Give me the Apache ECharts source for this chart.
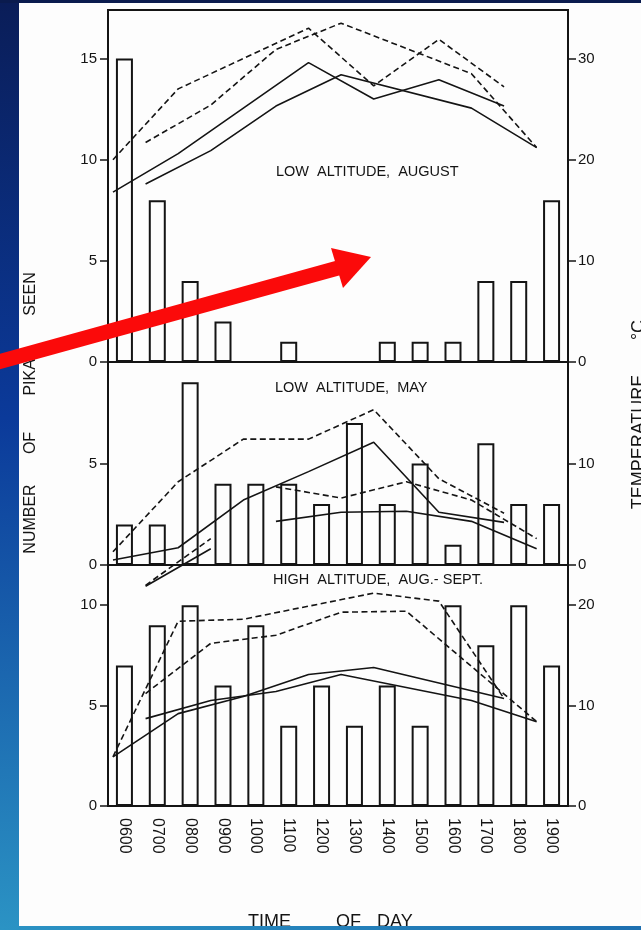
<!DOCTYPE html>
<html>
<head>
<meta charset="utf-8">
<style>
html,body{margin:0;padding:0;background:#fdfdfd;}
#chart{width:641px;height:930px;}
</style>
<script src="https://cdn.jsdelivr.net/npm/echarts@6/dist/echarts.min.js"></script>
</head>
<body>
<div id="chart"></div>
<script>
// ---- categories ----
const hours = ['0600','0700','0800','0900','1000','1100','1200','1300','1400','1500','1600','1700','1800','1900'];

// ---- bar values: number of pikas seen ----
const augBars  = [15, 8, 4, 2, 0, 1, 0, 0, 1, 1, 1, 4, 4, 8];
const mayBars  = [2, 2, 9, 4, 4, 4, 3, 7, 3, 5, 1, 6, 3, 3];
const highBars = [7, 9, 10, 6, 9, 4, 6, 4, 6, 4, 10, 8, 10, 7];

// ---- temperature lines (°C), hours of day ----
// Low altitude, August
const augEvenHours   = [6, 8, 12, 14, 16, 18];
const augDashEven    = [20.0, 27.0, 33.0, 27.3, 31.9, 27.2];
const augSolidEven   = [16.8, 20.6, 29.6, 26.0, 27.9, 25.3];
const augOddHours    = [7, 9, 11, 13, 17, 19];
const augDashOdd     = [21.7, 25.4, 30.9, 33.5, 28.5, 21.2];
const augSolidOdd    = [17.6, 20.9, 25.3, 28.4, 25.1, 21.2];
// Low altitude, May
const mayEvenHours   = [6, 8, 10, 12, 14, 16, 18];
const mayDashEven    = [1.3, 8.2, 12.4, 12.4, 15.3, 8.5, 5.1];
const maySolidEven   = [0.5, 1.7, 6.4, 9.2, 12.1, 5.2, 4.2];
const mayOddHours    = [7, 9, 10, 11, 13, 15, 17, 19];
const mayDashOdd     = [-2.0, 2.6, null, 7.7, 6.6, 8.2, 6.4, 2.6];
const maySolidOdd    = [-2.1, 1.6, null, 4.3, 5.2, 5.3, 4.3, 1.6];
// High altitude, Aug.-Sept.
const highDashEvenHours  = [6, 8, 10, 14, 16, 18];
const highDashEven       = [4.9, 18.4, 18.6, 21.2, 20.4, 10.7];
const highSolidEvenHours = [6, 8, 10, 12, 14, 18];
const highSolidEven      = [4.9, 9.2, 10.9, 13.1, 13.8, 10.7];
const highDashOddHours   = [7, 9, 11, 13, 15, 19];
const highDashOdd        = [11.2, 16.2, 17.0, 19.3, 19.4, 8.4];
const highSolidOddHours  = [7, 9, 11, 13, 17, 19];
const highSolidOdd       = [8.7, 10.5, 11.4, 13.1, 10.5, 8.4];

// ---- axis ticks ----
const countMax = [17.4, 10, 12];
const countTicks = [[0, 5, 10, 15], [0, 5], [0, 5, 10]];
const tempTicks  = [[0, 10, 20, 30], [0, 10], [0, 10, 20]];

const panelTitles = ['LOW  ALTITUDE,  AUGUST', 'LOW  ALTITUDE,  MAY', 'HIGH  ALTITUDE,  AUG.- SEPT.'];

const FONT = '"Liberation Sans", Arial, sans-serif';
const INK = '#141414';

const grids = [
  {left: 108, top: 10,  width: 460, height: 352},
  {left: 108, top: 362, width: 460, height: 203},
  {left: 108, top: 565, width: 460, height: 241}
].map(g => Object.assign(g, {show: true, borderColor: INK, borderWidth: 2, backgroundColor: 'transparent'}));

const xAxis = [], yAxis = [];
for (let g = 0; g < 3; g++) {
  xAxis.push({
    type: 'category', gridIndex: g, data: hours, boundaryGap: true,
    axisLine: {show: true, lineStyle: {color: INK, width: 2}},
    axisTick: {show: false},
    axisLabel: {show: g === 2, rotate: -90, margin: 12, fontSize: 16, color: INK, fontFamily: FONT}
  });
  xAxis.push({type: 'value', gridIndex: g, min: 5.847, max: 19.962, show: false});
  yAxis.push({
    type: 'value', gridIndex: g, position: 'left', min: 0, max: countMax[g], interval: 5,
    axisLine: {show: true, lineStyle: {color: INK, width: 2}},
    axisTick: {show: true, length: 8, lineStyle: {color: INK, width: 1.5}, customValues: countTicks[g]},
    axisLabel: {margin: 11, fontSize: 15, color: INK, fontFamily: FONT, customValues: countTicks[g]},
    splitLine: {show: false}
  });
  yAxis.push({
    type: 'value', gridIndex: g, position: 'right', min: 0, max: countMax[g] * 2, interval: 10,
    axisLine: {show: true, lineStyle: {color: INK, width: 2}},
    axisTick: {show: true, length: 8, lineStyle: {color: INK, width: 1.5}, customValues: tempTicks[g]},
    axisLabel: {margin: 10, fontSize: 15, color: INK, fontFamily: FONT, customValues: tempTicks[g]},
    splitLine: {show: false}
  });
}

function barSeries(g, data) {
  return {
    type: 'bar', xAxisIndex: 2 * g, yAxisIndex: 2 * g, data: data, barWidth: 17,
    itemStyle: {color: '#fdfdfd', borderColor: INK, borderWidth: 2},
    silent: true, z: 2
  };
}
function lineSeries(g, hrs, temps, dashed) {
  return {
    type: 'line', xAxisIndex: 2 * g + 1, yAxisIndex: 2 * g + 1,
    data: hrs.map((h, i) => [h, temps[i] === null ? '-' : temps[i]]),
    symbol: 'none', clip: false, connectNulls: false, silent: true, z: 3,
    lineStyle: {color: INK, width: 1.6, type: dashed ? [6, 3.5] : 'solid'}
  };
}

const series = [
  barSeries(0, augBars), barSeries(1, mayBars), barSeries(2, highBars),
  lineSeries(0, augEvenHours, augDashEven, true),
  lineSeries(0, augEvenHours, augSolidEven, false),
  lineSeries(0, augOddHours, augDashOdd, true),
  lineSeries(0, augOddHours, augSolidOdd, false),
  lineSeries(1, mayEvenHours, mayDashEven, true),
  lineSeries(1, mayEvenHours, maySolidEven, false),
  lineSeries(1, mayOddHours, mayDashOdd, true),
  lineSeries(1, mayOddHours, maySolidOdd, false),
  lineSeries(2, highDashEvenHours, highDashEven, true),
  lineSeries(2, highSolidEvenHours, highSolidEven, false),
  lineSeries(2, highDashOddHours, highDashOdd, true),
  lineSeries(2, highSolidOddHours, highSolidOdd, false)
];

function vtext(txt, x, y, size) {
  return {type: 'text', x: x, y: y, rotation: Math.PI / 2, z: 50,
    style: {text: txt, fill: INK, font: '500 ' + size + 'px ' + FONT, textAlign: 'center', textVerticalAlign: 'middle'}};
}
function htext(txt, x, y, size) {
  return {type: 'text', x: x, y: y, z: 50,
    style: {text: txt, fill: INK, font: size + 'px ' + FONT, textAlign: 'left', textVerticalAlign: 'middle'}};
}

const graphic = [
  // blue slide frame
  {type: 'rect', shape: {x: 0, y: 0, width: 19, height: 930}, z: 60,
   style: {fill: new echarts.graphic.LinearGradient(0, 0, 0, 1, [
     {offset: 0, color: '#0a1d58'}, {offset: 0.45, color: '#0b3a9a'}, {offset: 1, color: '#2b93c4'}])}},
  {type: 'rect', shape: {x: 0, y: 0, width: 641, height: 3}, z: 60, style: {fill: '#0a1b4e'}},
  {type: 'rect', shape: {x: 0, y: 926, width: 641, height: 4}, z: 60,
   style: {fill: new echarts.graphic.LinearGradient(0, 0, 1, 0, [
     {offset: 0, color: '#2b93c4'}, {offset: 1, color: '#1d6fb0'}])}},
  // panel titles
  htext(panelTitles[0], 276, 172, 14.5),
  htext(panelTitles[1], 275, 388, 14.5),
  htext(panelTitles[2], 273, 580, 14.5),
  // left axis name
  vtext('NUMBER', 31, 519, 16),
  vtext('OF', 31, 443, 16),
  vtext('PIKAS', 31, 372, 16),
  vtext('SEEN', 31, 294, 16),
  // right axis name
  vtext('TEMPERATURE', 639, 442, 18),
  vtext('°C', 639, 330, 18),
  // x axis name
  {type: 'text', x: 248, y: 922, z: 50, style: {text: 'TIME', fill: INK, font: '500 18px ' + FONT, textAlign: 'left', textVerticalAlign: 'middle'}},
  {type: 'text', x: 336, y: 922, z: 50, style: {text: 'OF', fill: INK, font: '500 18px ' + FONT, textAlign: 'left', textVerticalAlign: 'middle'}},
  {type: 'text', x: 377, y: 922, z: 50, style: {text: 'DAY', fill: INK, font: '500 18px ' + FONT, textAlign: 'left', textVerticalAlign: 'middle'}},
  // red arrow
  {type: 'polyline', z: 70, shape: {points: [[-2, 362], [338, 268]]}, style: {stroke: '#fb0a0a', lineWidth: 15, fill: null}},
  {type: 'polygon', z: 70, shape: {points: [[331, 248], [343, 288], [371, 257]]}, style: {fill: '#fb0a0a'}}
];

const chart = echarts.init(document.getElementById('chart'), null, {renderer: 'canvas'});
chart.setOption({
  backgroundColor: '#fdfdfd',
  animation: false,
  textStyle: {fontFamily: FONT},
  grid: grids,
  xAxis: xAxis,
  yAxis: yAxis,
  series: series,
  graphic: graphic
});
</script>
</body>
</html>
